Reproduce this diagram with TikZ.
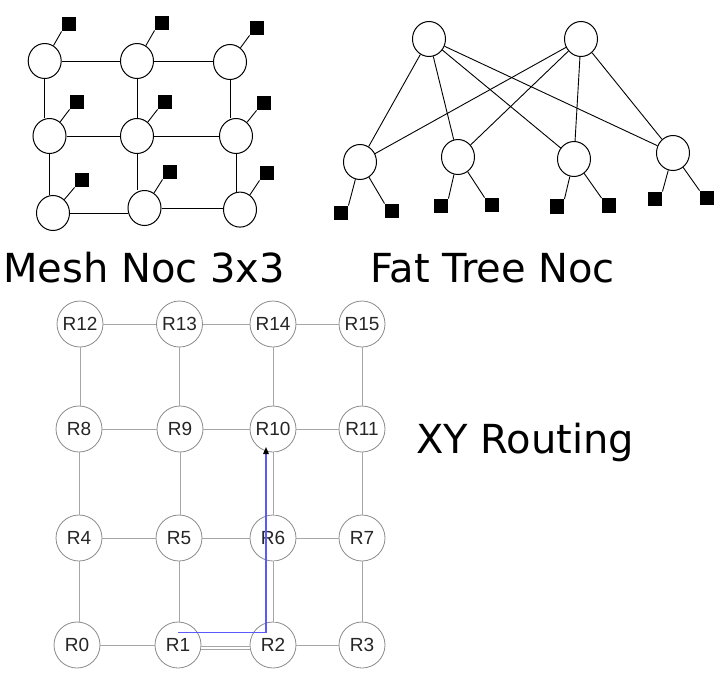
\documentclass[tikz,border=0pt]{standalone}
\usepackage{fontspec}
\setmainfont{DejaVu Sans}
\newfontfamily\arialfont{Liberation Sans}
\usetikzlibrary{shapes.geometric,arrows.meta}
\definecolor{pathblue}{HTML}{5A5AFA}
\begin{document}
\begin{tikzpicture}[x=1pt,y=-1pt,
  rt/.style={ellipse,draw=black,line width=1pt,fill=white,minimum width=33pt,minimum height=35pt,inner sep=0pt},
  pe/.style={rectangle,fill=black,minimum size=14.5pt,inner sep=0pt},
  lk/.style={draw=black,line width=0.9pt},
  rr/.style={circle,draw=black!45,line width=0.8pt,fill=white,minimum size=46pt,inner sep=0pt,
             font=\arialfont\fontsize{19}{22}\selectfont,text=black!85},
  gl/.style={draw=black!35,line width=0.9pt},
  gld/.style={draw=black!35,line width=0.8pt,double=white,double distance=2pt},
  title/.style={font=\fontsize{40}{48}\selectfont,anchor=base west,inner sep=0pt}]
\useasboundingbox (0,0) rectangle (724,689);

% ---------- Mesh NoC 3x3 ----------
\node[rt] (m11) at (44.7,61) {};
\node[rt] (m12) at (137,61) {};
\node[rt] (m13) at (230,62) {};
\node[rt] (m21) at (49.5,136) {};
\node[rt] (m22) at (137,136) {};
\node[rt] (m23) at (236,136) {};
\node[rt] (m31) at (53,213) {};
\node[rt] (m32) at (144.5,208) {};
\node[rt] (m33) at (240,209.6) {};
\node[pe] (p11) at (69,24) {};
\node[pe] (p12) at (162,23) {};
\node[pe] (p13) at (257,28) {};
\node[pe] (p21) at (77,102) {};
\node[pe] (p22) at (165,102) {};
\node[pe] (p23) at (264,103) {};
\node[pe] (p31) at (82,180) {};
\node[pe] (p32) at (170,172) {};
\node[pe] (p33) at (267,173) {};
% horizontal links (kept level)
\foreach \a/\b in {m11/m12,m12/m13,m21/m22,m22/m23,m31/m32,m32/m33}
  \draw[lk] (\a.east) -- (\a.east -| \b.west);
% vertical links (kept upright)
\foreach \a/\b in {m11/m21,m12/m22,m13/m23,m21/m31,m22/m32,m23/m33}
  \draw[lk] (\a.south) -- (\a.south |- \b.north);
\foreach \i in {11,12,13,21,22,23,31,32,33}
  \draw[lk] (m\i) -- (p\i.south west);

% ---------- Fat tree NoC ----------
\node[rt] (t1) at (429,39) {};
\node[rt] (t2) at (581,39) {};
\node[rt] (b1) at (360,162) {};
\node[rt] (b2) at (458,157) {};
\node[rt] (b3) at (574,159) {};
\node[rt] (b4) at (673,153) {};
\foreach \t in {t1,t2}
  \foreach \b in {b1,b2,b3,b4}
    \draw[lk] (\t) -- (\b);
\node[pe] (q1) at (341,213) {};
\node[pe] (q2) at (392,211) {};
\node[pe] (q3) at (441,206) {};
\node[pe] (q4) at (492,205) {};
\node[pe] (q5) at (557,206.5) {};
\node[pe] (q6) at (609,205.5) {};
\node[pe] (q7) at (655,199) {};
\node[pe] (q8) at (707,198) {};
\draw[lk] (b1) -- (q1.north east);
\draw[lk] (b1) -- (q2.north west);
\draw[lk] (b2) -- (q3.north east);
\draw[lk] (b2) -- (q4.north west);
\draw[lk] (b3) -- (q5.north east);
\draw[lk] (b3) -- (q6.north west);
\draw[lk] (b4) -- (q7.north east);
\draw[lk] (b4) -- (q8.north west);

% ---------- Titles ----------
\node[title] (tmesh) at (3,282.3) {Mesh Noc 3x3};
\node[title] (tfat) at (370,282.3) {Fat Tree Noc};
\node[title] (txy) at (416,453) {XY Routing};

% ---------- XY routing grid ----------
\node[rr] (R12) at (80,324) {R12};
\node[rr] (R13) at (179.5,324) {R13};
\node[rr] (R14) at (273,324) {R14};
\node[rr] (R15) at (362,324) {R15};
\node[rr] (R8) at (79,429) {R8};
\node[rr] (R9) at (180,429) {R9};
\node[rr] (R10) at (273,429) {R10};
\node[rr] (R11) at (362,429) {R11};
\node[rr] (R4) at (79,538) {R4};
\node[rr] (R5) at (179,538) {R5};
\node[rr] (R6) at (273,538) {R6};
\node[rr] (R7) at (362,538) {R7};
\node[rr] (R0) at (77,645) {R0};
\node[rr] (R1) at (178,645) {R1};
\node[rr] (R2) at (273,645) {R2};
\node[rr] (R3) at (362,645) {R3};
\foreach \a/\b in {R12/R13,R13/R14,R14/R15,R8/R9,R9/R10,R10/R11,R4/R5,R5/R6,R6/R7,R0/R1,R2/R3}
  \draw[gl] (\a.east) -- (\a.east -| \b.west);
\foreach \a/\b in {R12/R8,R13/R9,R14/R10,R15/R11,R8/R4,R9/R5,R11/R7,R4/R0,R5/R1,R7/R3}
  \draw[gl] (\a.south) -- (\a.south |- \b.north);
\draw[gld] ([yshift=-3pt]R1.east) -- ([yshift=-3pt]R1.east -| R2.west);
\draw[gld] ([xshift=1.5pt]R2.north) -- ([xshift=1.5pt]R6.south);
\draw[gld] ([xshift=1.5pt]R6.north) -- ([xshift=1.5pt]R10.south);

% XY path
\coordinate (bs) at (178,632.5);
\coordinate (bc) at (266,632.5);
\coordinate (be) at (266,447);
\draw[pathblue,line width=1.3pt,-{Triangle[black,length=7pt,width=5.5pt]}] (bs) -- (bc) -- (be);
\end{tikzpicture}
\end{document}
